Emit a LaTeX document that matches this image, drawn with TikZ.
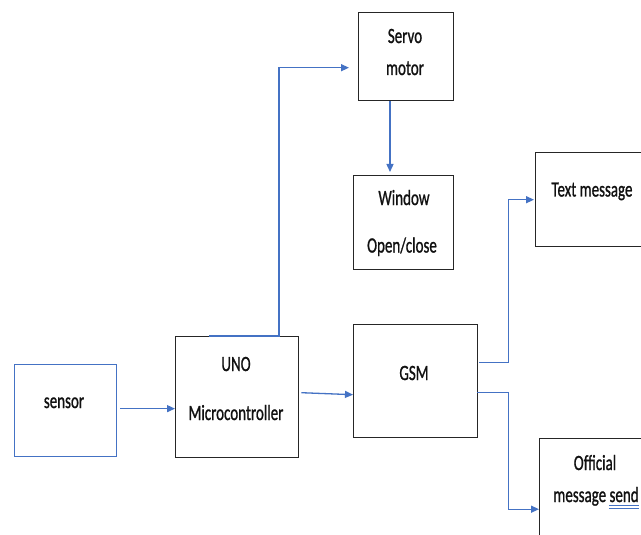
\documentclass[tikz,border=0pt]{standalone}
\usepackage{fontspec}
\setmainfont{Carlito}
\newfontface\tfont{Carlito}[FakeBold=1.2]
\usetikzlibrary{arrows.meta}
\definecolor{lnblue}{HTML}{4472C4}
\definecolor{txtcol}{HTML}{111111}
\newcommand{\tx}[1]{\scalebox{1}[1.45]{#1}}
\begin{document}
\begin{tikzpicture}[x=1pt,y=-1pt,
  box/.style={draw=black!85, line width=1.4pt, inner sep=0pt, anchor=north west},
  bluebox/.style={draw=lnblue, line width=1.3pt, inner sep=0pt, anchor=north west},
  conn/.style={draw=lnblue, line width=1.3pt, -{Triangle[length=8pt,width=7pt]}},
  txt/.style={inner sep=0pt, anchor=base, text=txtcol, font=\fontsize{15}{18}\tfont}]
\useasboundingbox (0,0) rectangle (641,535);
\clip (0,0) rectangle (641,535);
\fill[white] (0,0) rectangle (641,535);
% boxes
\node[bluebox, minimum width=102pt, minimum height=92pt] (sensor) at (14,364) {};
\node[box, minimum width=123pt, minimum height=121pt] (uno) at (175,336) {};
\node[box, minimum width=95pt, minimum height=88pt] (servo) at (358,12) {};
\node[box, minimum width=100pt, minimum height=94pt] (window) at (353,175) {};
\node[box, minimum width=124pt, minimum height=113pt] (gsm) at (353,324) {};
\node[box, minimum width=125pt, minimum height=94pt] (textm) at (535,152) {};
\node[box, minimum width=125pt, minimum height=125pt] (official) at (539,438) {};
% texts
\node[txt] (tsensor) at (64,408) {\tx{sensor}};
\node[txt] (tuno) at (236,371) {\tx{UNO}};
\node[txt] (tmicro) at (236,420) {\tx{Microcontroller}};
\node[txt] (tservo) at (405,43) {\tx{Servo}};
\node[txt] (tmotor) at (405,75) {\tx{motor}};
\node[txt] (twindow) at (404,205) {\tx{Window}};
\node[txt] (topen) at (402,252.5) {\tx{Open/close}};
\node[txt] (tgsm) at (414,380) {\tx{GSM}};
\node[txt] (ttext) at (592,196.5) {\tx{Text message}};
\node[txt] (toff) at (595,470) {\tx{Official}};
\node[txt] (tmsg) at (596,502) {\tx{message send}};
% spell-check underline
\draw[lnblue, line width=0.9pt] ([xshift=-30pt,yshift=-3pt]tmsg.base east) -- ([yshift=-3pt]tmsg.base east)
  ([xshift=-30pt,yshift=-6pt]tmsg.base east) -- ([yshift=-6pt]tmsg.base east);
% connectors
\draw[conn] ([xshift=3pt,yshift=2pt]sensor.east) -- ([yshift=2pt]sensor.east -| uno.west);
\draw[conn] ([xshift=34pt]uno.north west) -- ([xshift=104pt]uno.north west) |- ([xshift=-9pt,yshift=-11pt]servo.west);
\draw[conn] ([xshift=32pt]servo.south west) -- ([xshift=32pt,yshift=3pt]servo.south west |- window.north);
\draw[conn] ([xshift=2pt,yshift=4.5pt]uno.east) -- ([yshift=-13.5pt]gsm.west);
\draw[conn] ([xshift=1pt,yshift=18.5pt]gsm.east) -- ++(29,0) |- ([xshift=-1pt]textm.west);
\draw[conn] ([xshift=-1pt,yshift=-11.5pt]gsm.east) -- ++(31,0) |- ([yshift=-8pt]official.west);
\end{tikzpicture}
\end{document}
